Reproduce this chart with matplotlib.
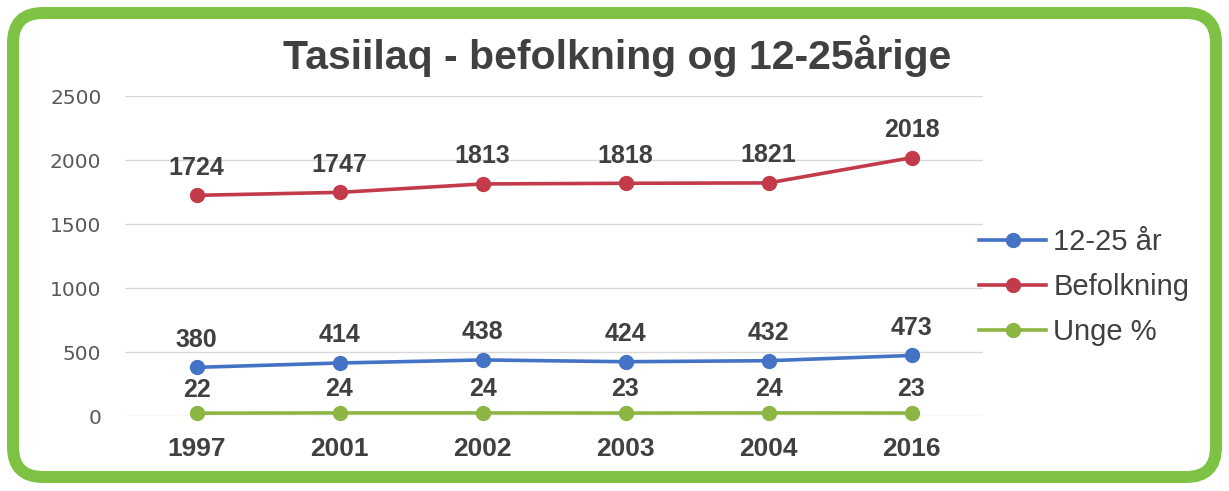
import matplotlib
matplotlib.use("Agg")
import matplotlib.pyplot as plt
from matplotlib.patches import FancyBboxPatch
import numpy as np

# ---- data ----
years = ["1997", "2001", "2002", "2003", "2004", "2016"]
unge_1225 = [380, 414, 438, 424, 432, 473]
befolkning = [1724, 1747, 1813, 1818, 1821, 2018]
unge_pct = [22, 24, 24, 23, 24, 23]
series_names = ["12-25 år", "Befolkning", "Unge %"]
title = "Tasiilaq - befolkning og 12-25årige"
yticks = [0, 500, 1000, 1500, 2000, 2500]

W, H = 1229, 491
fig = plt.figure(figsize=(W / 100, H / 100), dpi=100)
fig.patch.set_facecolor("white")

# frame overlay
bg = fig.add_axes([0, 0, 1, 1], zorder=0)
bg.set_xlim(0, W)
bg.set_ylim(H, 0)
bg.axis("off")
frame = FancyBboxPatch((13, 13), W - 26, H - 27,
                       boxstyle="round,pad=0,rounding_size=30",
                       facecolor="white", edgecolor="#7dc242", linewidth=8.6)
bg.add_patch(frame)

def px_to_fig(x0, y0, x1, y1):
    return [x0 / W, 1 - y1 / H, (x1 - x0) / W, (y1 - y0) / H]

ax = fig.add_axes(px_to_fig(125, 96, 983, 416), zorder=1)
ax.set_facecolor("none")
x = np.arange(len(years))

colors = ["#4472c4", "#c33a4a", "#8db543"]
data = [unge_1225, befolkning, unge_pct]
offsets = [20, 20, 17]
lines = []
for vals, c, name, off in zip(data, colors, series_names, offsets):
    ln, = ax.plot(x, vals, color=c, lw=2.6, marker="o", markersize=10,
                  label=name, clip_on=False, zorder=3)
    lines.append(ln)
    for xi, v in zip(x, vals):
        ax.annotate(str(v), (xi, v), xytext=(0, off), textcoords="offset points",
                    ha="center", va="center", fontsize=18, fontweight="bold",
                    color="#404040", family="Liberation Sans")

ax.set_xlim(-0.5, len(years) - 0.5)
ax.set_ylim(0, 2500)
ax.set_yticks(yticks)
ax.set_yticklabels([str(t) for t in yticks], fontsize=14.5, color="#595959",
                   family="DejaVu Sans")
ax.set_xticks(x)
ax.set_xticklabels(years, fontsize=19, fontweight="bold", color="#404040",
                   family="Liberation Sans")
ax.tick_params(axis="both", length=0)
ax.tick_params(axis="y", pad=17)
ax.tick_params(axis="x", pad=15)
ax.grid(axis="y", color="#d9d9d9", lw=1)
ax.set_axisbelow(True)
for s in ax.spines.values():
    s.set_visible(False)

fig.text(617 / W, 1 - 56 / H, title, ha="center", va="center",
         fontsize=29.5, fontweight="bold", color="#404040", family="Liberation Sans")

leg = fig.legend(handles=lines, labels=series_names, loc="upper left",
                 bbox_to_anchor=(979 / W, 1 - 228 / H), frameon=False,
                 prop={"family": "Liberation Sans", "size": 21},
                 handlelength=2.3, handletextpad=0.25, labelspacing=0.58,
                 borderaxespad=0, borderpad=0)
for t in leg.get_texts():
    t.set_color("#404040")

fig.savefig("out.png", dpi=100)
